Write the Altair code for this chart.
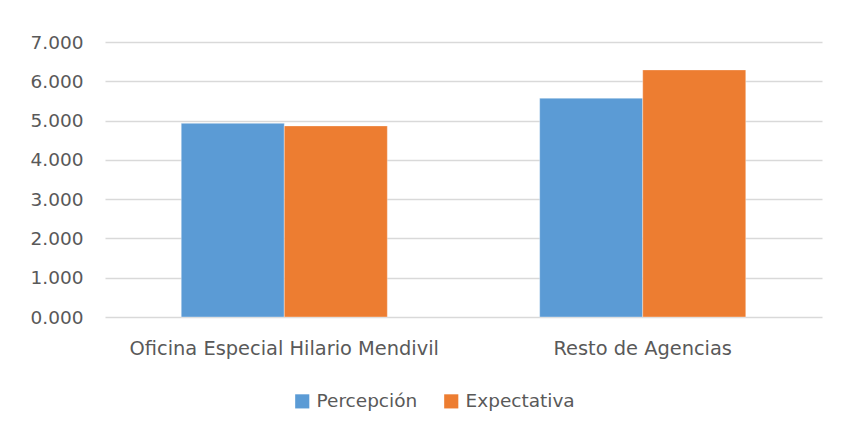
import altair as alt
import pandas as pd

categories = ["Oficina Especial Hilario Mendivil", "Resto de Agencias"]
series = ["Percepción", "Expectativa"]
percepcion = [4.93, 5.57]
expectativa = [4.865, 6.29]
y_ticks = [0, 1, 2, 3, 4, 5, 6, 7]
colors = ["#5B9BD5", "#ED7D31"]

rows = []
for i, c in enumerate(categories):
    rows.append({"cat": c, "serie": series[0], "valor": percepcion[i]})
    rows.append({"cat": c, "serie": series[1], "valor": expectativa[i]})
df = pd.DataFrame(rows)

FONT = "DejaVu Sans"
TXT = "#595959"

chart = alt.Chart(df).mark_bar(stroke="white", strokeWidth=0.6, strokeOpacity=0.6).encode(
    x=alt.X("cat:N", sort=categories, title=None,
            scale=alt.Scale(paddingInner=0.425, paddingOuter=0.2127),
            axis=alt.Axis(labelAngle=0, labelFontSize=19.4, labelColor=TXT, labelFont=FONT,
                          labelPadding=22, labelLimit=0, ticks=False, domain=False, grid=False)),
    xOffset=alt.XOffset("serie:N", sort=series, scale=alt.Scale(paddingInner=0, paddingOuter=0)),
    y=alt.Y("valor:Q", title=None,
            scale=alt.Scale(domain=[0, 7], nice=False),
            axis=alt.Axis(values=y_ticks, format=".3f", labelFontSize=18.5, labelColor=TXT,
                          labelFont=FONT, labelPadding=22, ticks=False, domain=False,
                          gridColor="#D9D9D9", gridWidth=1.6)),
    color=alt.Color("serie:N", sort=series, title=None,
                    scale=alt.Scale(domain=series, range=colors),
                    legend=alt.Legend(orient="none", direction="horizontal",
                                      legendX=188, legendY=350,
                                      symbolType="square", symbolSize=200,
                                      symbolStrokeWidth=0, labelFontSize=18.5,
                                      labelColor=TXT, labelFont=FONT, labelOffset=5,
                                      columnPadding=24, padding=0)),
).properties(
    width=717, height=275,
    background="white",
    padding={"left": 97, "top": 34, "right": 11, "bottom": 105},
    autosize=alt.AutoSizeParams(type="none"),
).configure_view(stroke=None)

chart.save("out.html", embed_options={"renderer": "svg", "actions": False})
